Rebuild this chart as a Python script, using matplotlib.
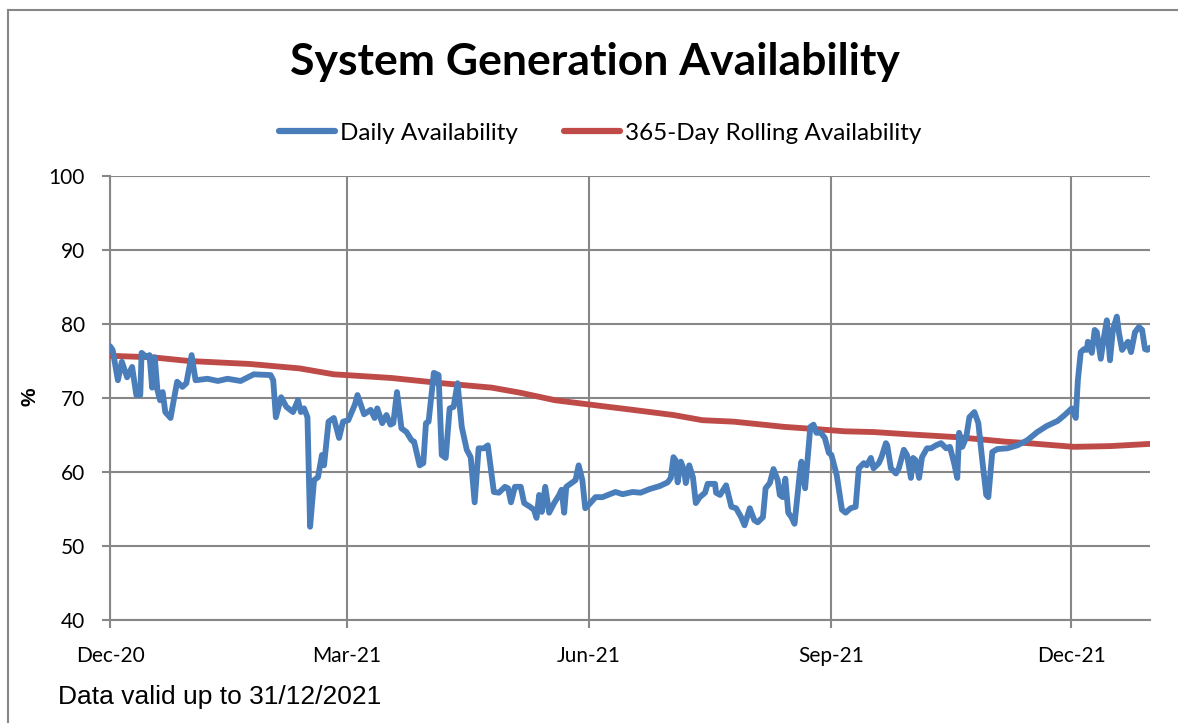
import matplotlib
matplotlib.use("Agg")
import matplotlib.pyplot as plt
from matplotlib.lines import Line2D
import pandas as pd

# ---------------- data ----------------
start_date = "2020-12-01"

daily_days = [0, 1, 3, 4.5, 6.5, 8.4, 10, 11.5, 12, 14, 15, 16, 17, 18, 19, 20, 21, 23, 24, 25.5,
              27.5, 29, 31, 32.5, 37, 41, 44.6, 49.6, 54.6, 61, 62, 63, 65, 67, 69.5, 71.4, 72.5,
              73.7, 75, 76, 77.5, 79, 80.5, 81.3, 83, 85, 87, 88.5, 90.5, 93, 94, 96.5, 99, 100.5,
              101.5, 103.4, 105, 106.5, 107.6, 109, 110.7, 112.6, 114.5, 115.5, 117.6, 119, 120,
              121, 123, 124.8, 126, 127.5, 129, 130.5, 132, 133.6, 135.5, 137, 138.5, 140, 142,
              143.5, 145.8, 147.7, 150, 151.2, 152.3, 153.8, 156, 157.3, 159.5, 161, 162, 163, 164,
              165.3, 166.8, 168.7, 170.6, 171.5, 172.5, 173.3, 175.6, 176.8, 178, 179.4, 180.5,
              182.4, 184.4, 187, 192, 194.7, 198.5, 201.5, 205, 208.8, 211.8, 213, 214, 214.8,
              215.6, 216.8, 218.0, 218.7, 220, 221.4, 222.5, 224, 226, 227, 229.8, 230.2, 231.7,
              234, 236, 237.8, 239.7, 241, 243, 244.7, 246, 248, 249, 250.6, 252, 253.6, 254.4,
              255.5, 256.5, 257.6, 258.8, 260, 262, 262.6, 264, 266, 267.2, 268.3, 270, 271.5,
              273, 274, 276, 278, 279.4, 281.3, 283.2, 284.4, 286.3, 287.4, 289, 290, 292, 293,
              294.7, 295.2, 296.6, 298.5, 299.6, 301.5, 302.7, 304.2, 305, 306, 307.3, 308.4,
              310.3, 311.8, 313.7, 315.6, 317.6, 319, 320.6, 321.8, 322.5, 323.7, 325.2, 326.4,
              328.3, 329.8, 331.3, 332.8, 333.6, 335.1, 337, 340.8, 344.6, 348.4, 352.2, 355.7,
              359.9, 362.6, 365.3, 366.8, 367.6, 368.7, 369.9, 371, 371.4, 372.9, 374, 374.8,
              376.3, 377.5, 378.6, 379.8, 380.9, 382.4, 383.2, 384.4, 386.6, 387.8, 389.3, 390.8,
              392, 393.1, 394, 395]
daily_values = [77.0, 76.5, 72.4, 74.9, 72.8, 74.2, 70.4, 70.4, 76.1, 75.5, 75.8, 71.4, 75.5, 71.1,
                69.7, 70.8, 68.1, 67.3, 69.3, 72.2, 71.5, 72.0, 75.8, 72.4, 72.6, 72.3, 72.6, 72.3,
                73.2, 73.1, 72.4, 67.4, 70.1, 68.8, 68.1, 69.7, 68.1, 68.6, 67.4, 52.6, 58.9, 59.3,
                62.3, 60.9, 66.8, 67.3, 64.6, 66.8, 67.0, 69.1, 70.4, 67.8, 68.4, 67.3, 68.6, 66.6,
                67.7, 66.4, 66.6, 70.8, 65.9, 65.4, 64.3, 64.1, 60.9, 61.2, 66.6, 66.8, 73.4, 73.1,
                62.3, 61.9, 68.6, 68.8, 72.0, 66.1, 63.0, 62.0, 55.9, 63.2, 63.2, 63.6, 57.3, 57.2,
                58.0, 57.8, 55.9, 58.0, 58.0, 55.8, 55.3, 54.9, 53.8, 56.9, 54.6, 58.0, 54.5, 55.8,
                56.9, 57.6, 54.5, 58.0, 58.6, 58.9, 60.9, 58.9, 55.1, 55.8, 56.6, 56.6, 57.3, 57.0,
                57.3, 57.2, 57.7, 58.1, 58.6, 59.2, 62.0, 61.6, 58.6, 61.4, 60.3, 58.5, 60.9, 59.3,
                55.8, 56.6, 57.2, 58.4, 58.4, 57.2, 56.9, 58.2, 55.3, 55.1, 53.9, 52.8, 55.1, 53.5,
                53.2, 53.9, 57.8, 58.5, 60.4, 58.9, 56.9, 56.6, 59.1, 54.5, 53.9, 53.0, 59.9, 61.4,
                57.8, 66.1, 66.4, 65.3, 65.3, 64.6, 62.6, 62.3, 59.6, 54.9, 54.5, 55.1, 55.3, 60.5,
                61.2, 60.9, 61.9, 60.5, 61.2, 62.0, 63.9, 63.6, 60.5, 59.8, 60.5, 63.0, 62.3, 59.2,
                61.9, 61.6, 59.2, 62.0, 63.2, 63.2, 63.6, 63.9, 63.2, 63.4, 61.2, 59.2, 65.3, 63.4,
                64.7, 67.4, 68.1, 66.6, 61.6, 56.9, 56.6, 62.7, 63.1, 63.2, 63.6, 64.3, 65.4, 66.2,
                66.9, 67.7, 68.6, 67.3, 72.4, 76.2, 76.6, 76.5, 77.6, 76.1, 79.2, 78.9, 75.3, 78.2,
                80.5, 75.1, 79.2, 81.0, 78.8, 76.5, 77.6, 76.2, 78.9, 79.6, 79.2, 76.6, 76.5, 76.8]

rolling_days = [0, 16, 30, 53, 72, 85, 94, 107, 126, 145, 156, 169, 187, 198.5, 214, 225, 237,
                256, 268, 279, 290, 303, 322, 340, 348.5, 366, 380, 395]
rolling_values = [75.7, 75.5, 75.0, 74.6, 74.0, 73.2, 73.0, 72.7, 72.0, 71.4, 70.7, 69.7, 68.9,
                  68.4, 67.7, 67.0, 66.8, 66.1, 65.8, 65.5, 65.4, 65.1, 64.7, 64.1, 63.9, 63.4,
                  63.5, 63.8]

tick_dates = ["2020-12-01", "2021-03-01", "2021-06-01", "2021-09-01", "2021-12-01"]
tick_labels = ["Dec-20", "Mar-21", "Jun-21", "Sep-21", "Dec-21"]
y_ticks = [40, 50, 60, 70, 80, 90, 100]

title_text = "System Generation Availability"
series_names = ["Daily Availability", "365-Day Rolling Availability"]
footer_text = "Data valid up to 31/12/2021"
y_label = "%"

# ---------------- plotting ----------------
base = pd.Timestamp(start_date)
daily_x = base + pd.to_timedelta(daily_days, unit="D")
rolling_x = base + pd.to_timedelta(rolling_days, unit="D")

BLUE = "#4A7EBB"
RED = "#BE4B48"
GRID = "#878787"
TICK_FONT = "Lato"

fig = plt.figure(figsize=(11.78, 7.23), dpi=100)
ax = fig.add_axes([110 / 1178, 1 - 620 / 723, 1040 / 1178, 444 / 723])

ax.plot(rolling_x, rolling_values, color=RED, lw=4.2, solid_capstyle="round",
        solid_joinstyle="round", zorder=3)
ax.plot(daily_x, daily_values, color=BLUE, lw=4.2, solid_capstyle="round",
        solid_joinstyle="round", zorder=4)

ax.set_xlim(base, base + pd.Timedelta(days=395))
ax.set_ylim(40, 100)
ax.set_yticks(y_ticks)
ax.set_xticks(pd.to_datetime(tick_dates))
ax.set_xticklabels(tick_labels, fontfamily=TICK_FONT, fontsize=15)
ax.set_yticklabels([str(v) for v in y_ticks], fontfamily=TICK_FONT, fontsize=15)

ax.grid(True, color=GRID, lw=1.5)
ax.set_axisbelow(True)
for s in ["top", "right"]:
    ax.spines[s].set_visible(False)
for s in ["left", "bottom"]:
    ax.spines[s].set_color(GRID)
    ax.spines[s].set_linewidth(1.5)
ax.tick_params(axis="both", color=GRID, width=1.5, length=6, direction="out")
ax.tick_params(axis="y", pad=12)
ax.tick_params(axis="x", pad=13)

fig.text(30 / 1178, 1 - 397 / 723, y_label, rotation=90, ha="center", va="center",
         fontsize=15, fontweight="bold", fontfamily="Liberation Sans")

fig.text(595 / 1178, 1 - 62 / 723, title_text, ha="center", va="center",
         fontsize=32, fontweight="bold", fontfamily="Lato")

handles = [Line2D([], [], color=BLUE, lw=4.5, solid_capstyle="round"),
           Line2D([], [], color=RED, lw=4.5, solid_capstyle="round")]
fig.legend(handles, series_names, loc="center", bbox_to_anchor=(600 / 1178, 1 - 133 / 723),
           ncol=2, frameon=False, prop={"family": "Lato", "size": 17.5},
           handlelength=2.3, handletextpad=0.2, columnspacing=1.9)

fig.text(58 / 1178, 1 - 697 / 723, footer_text, ha="left", va="center",
         fontsize=19, fontfamily="Liberation Sans")

# figure frame (left and top edges visible in the reference)
fig.add_artist(Line2D([8 / 1178, 8 / 1178], [0, 1 - 10 / 723], transform=fig.transFigure,
                      color=GRID, lw=1.5))
fig.add_artist(Line2D([8 / 1178, 1.0], [1 - 10 / 723, 1 - 10 / 723], transform=fig.transFigure,
                      color=GRID, lw=1.5))

fig.savefig("out.png", dpi=100)
